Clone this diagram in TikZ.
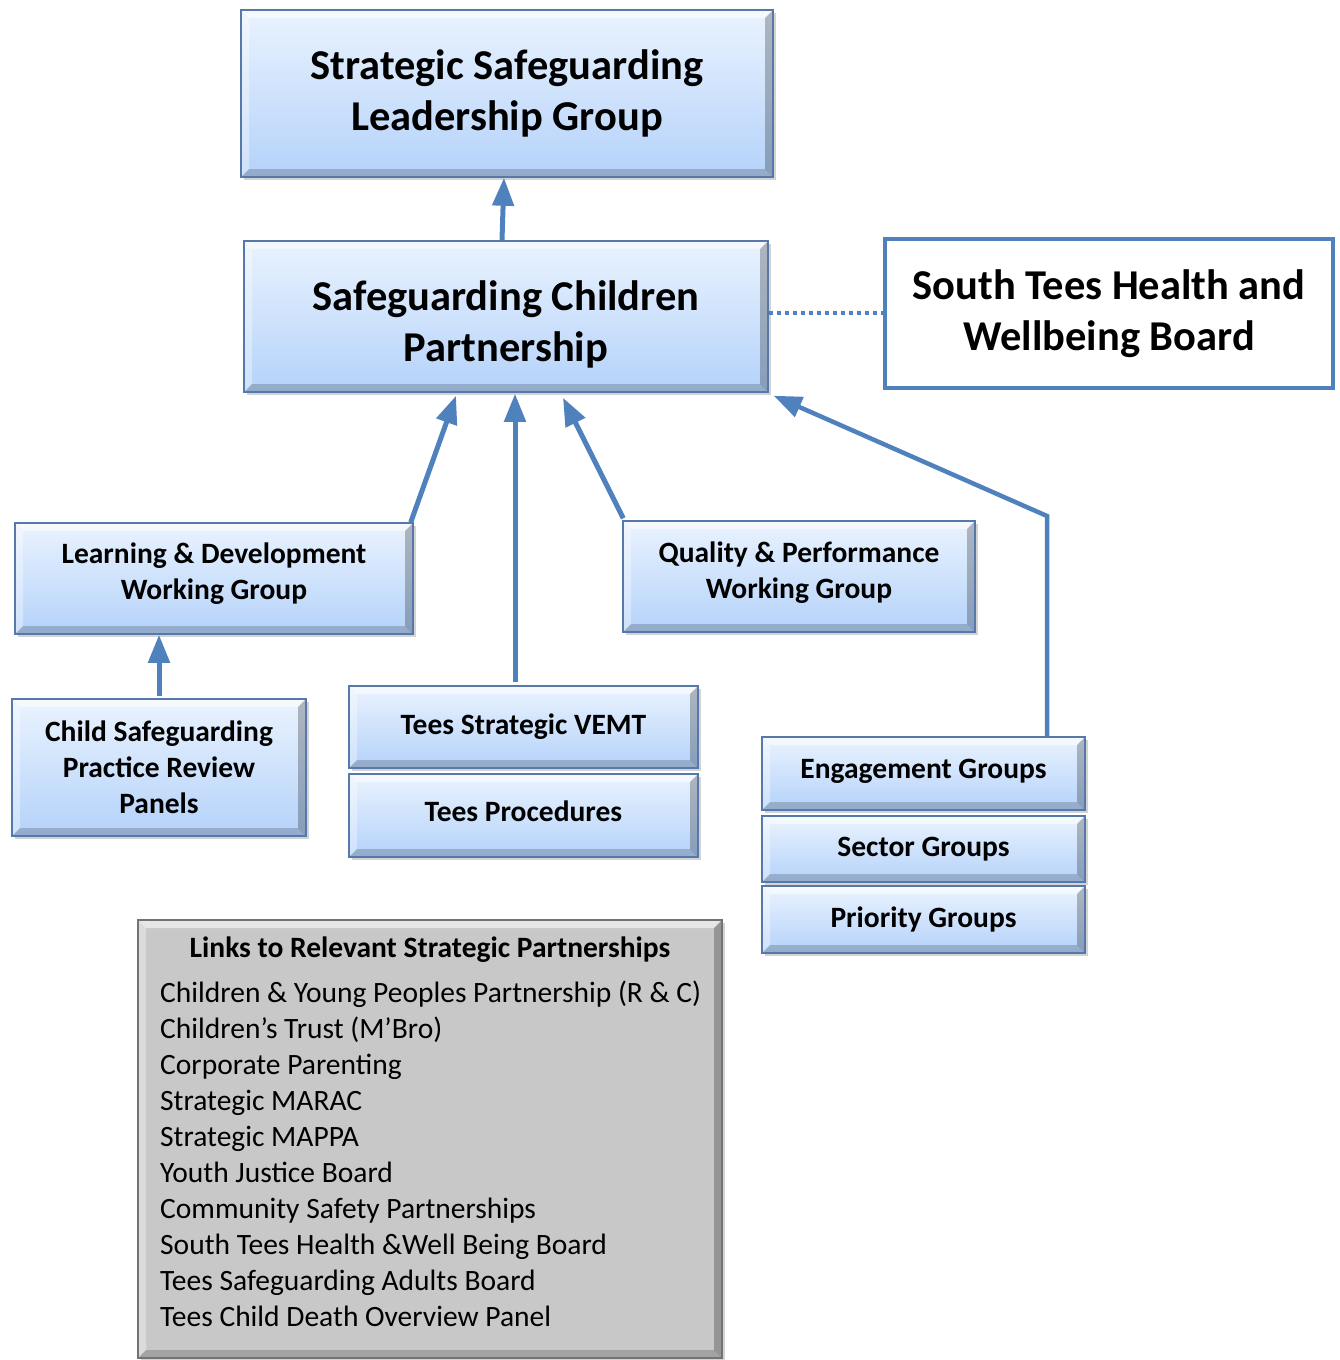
\documentclass[tikz,border=0pt]{standalone}
\usepackage{fontspec}
\setmainfont{Carlito}
\usetikzlibrary{arrows.meta,shadows}

\definecolor{linkblue}{RGB}{79,129,189}
\definecolor{boxtop}{RGB}{234,243,254}
\definecolor{boxbot}{RGB}{180,210,250}
\definecolor{boxline}{RGB}{86,120,170}
\definecolor{panelgrey}{RGB}{200,200,200}

% shift a line of box text without changing the box
\newcommand\liftline[2]{\raisebox{#1}[\height][\depth]{#2}}

\tikzset{
  bevel/.style={path picture={
    \fill[white,opacity=.55] (path picture bounding box.north west) -- (path picture bounding box.north east)
      -- ([xshift=-#1,yshift=-#1]path picture bounding box.north east) -- ([xshift=#1,yshift=-#1]path picture bounding box.north west) -- cycle;
    \fill[white,opacity=.35] (path picture bounding box.north west) -- (path picture bounding box.south west)
      -- ([xshift=#1,yshift=#1]path picture bounding box.south west) -- ([xshift=#1,yshift=-#1]path picture bounding box.north west) -- cycle;
    \fill[black,opacity=.25] (path picture bounding box.north east) -- (path picture bounding box.south east)
      -- ([xshift=-#1,yshift=#1]path picture bounding box.south east) -- ([xshift=-#1,yshift=-#1]path picture bounding box.north east) -- cycle;
    \fill[black,opacity=.18] (path picture bounding box.south west) -- (path picture bounding box.south east)
      -- ([xshift=-#1,yshift=#1]path picture bounding box.south east) -- ([xshift=#1,yshift=#1]path picture bounding box.south west) -- cycle;
  }},
  orgbox/.style={draw=boxline, line width=1.5pt, top color=boxtop, bottom color=boxbot,
    drop shadow={shadow xshift=3pt, shadow yshift=-3pt, opacity=.35}, bevel=8pt,
    align=center, inner sep=0pt, font=\bfseries},
  bigtext/.style={font=\fontsize{42.5}{51}\selectfont\bfseries},
  midtext/.style={font=\fontsize{29.5}{36}\selectfont\bfseries},
  uparrow/.style={draw=linkblue, line width=5pt, -{Triangle[length=28pt,width=21pt]}},
}

\begin{document}
\begin{tikzpicture}[x=1pt,y=-1pt]
  \useasboundingbox (0,0) rectangle (1340,1360);

  % top of the structure
  \node[orgbox,bigtext,minimum width=532pt,minimum height=167pt] (sslg) at (507,93.5) {Strategic Safeguarding\\Leadership Group};
  \node[orgbox,bigtext,minimum width=524pt,minimum height=151pt] (scp) at (506,316.5) {\liftline{-8pt}{Safeguarding Children}\\\liftline{-8pt}{Partnership}};
  \node[draw=linkblue,line width=4pt,fill=white,bigtext,align=center,minimum width=448pt,minimum height=149pt] (sthw) at (1109,313.5) {South Tees Health and\\Wellbeing Board};

  % working groups
  \node[orgbox,midtext,minimum width=398pt,minimum height=111pt] (ldwg) at (214,578.5) {\liftline{5pt}{Learning \& Development}\\\liftline{5pt}{Working Group}};
  \node[orgbox,midtext,minimum width=352pt,minimum height=111pt] (qpwg) at (799,576.5) {\liftline{4pt}{Quality \& Performance}\\\liftline{4pt}{Working Group}};
  \node[orgbox,midtext,minimum width=294pt,minimum height=137pt] (csprp) at (159,767.5) {Child Safeguarding\\Practice Review\\Panels};
  \node[orgbox,midtext,minimum width=349pt,minimum height=82pt] (vemt) at (523.5,727) {Tees Strategic VEMT};
  \node[orgbox,midtext,minimum width=349pt,minimum height=83pt] (proc) at (523.5,815.5) {\liftline{4pt}{Tees Procedures}};
  \node[orgbox,midtext,minimum width=323pt,minimum height=73pt] (engage) at (923.5,773.5) {\liftline{2pt}{Engagement Groups}};
  \node[orgbox,midtext,minimum width=323pt,minimum height=66pt] (sector) at (923.5,849) {Sector Groups};
  \node[orgbox,midtext,minimum width=323pt,minimum height=67pt] (prior) at (923.5,919.5) {Priority Groups};

  % links panel
  \node[draw=black!55,line width=1.5pt,fill=panelgrey,bevel=8pt,
    drop shadow={shadow xshift=3pt, shadow yshift=-3pt, opacity=.35},
    minimum width=584pt,minimum height=438pt] (links) at (430,1139) {};
  \node[font=\fontsize{29.5}{36}\selectfont\bfseries] (linkhead) at (430,950) {Links to Relevant Strategic Partnerships};
  \node[anchor=north west,align=left,inner sep=0pt,font=\fontsize{29.5}{36}\selectfont] (linklist) at (160,981) {%
    Children \& Young Peoples Partnership (R \& C)\\
    Children’s Trust (M’Bro)\\
    Corporate Parenting\\
    Strategic MARAC\\
    Strategic MAPPA\\
    Youth Justice Board\\
    Community Safety Partnerships\\
    South Tees Health \&Well Being Board\\
    Tees Safeguarding Adults Board\\
    Tees Child Death Overview Panel};

  % connectors
  \coordinate (bend) at (1047,516);
  \draw[uparrow] ([xshift=-4pt]scp.north) -- ([xshift=-3pt]sslg.south);
  \draw[uparrow] ([xshift=-3pt]ldwg.north east) -- ([xshift=-50pt,yshift=-3pt]scp.south);
  \draw[uparrow] ([xshift=-8.5pt,yshift=3pt]vemt.north) -- ([xshift=9pt,yshift=-1pt]scp.south);
  \draw[uparrow] ([xshift=1pt,yshift=2pt]qpwg.north west) -- ([xshift=57pt,yshift=-5pt]scp.south);
  \draw[uparrow,line width=4.5pt] (engage.north -| bend) -- (bend) -- ([xshift=5pt,yshift=-3pt]scp.south east);
  \draw[uparrow] ([yshift=2pt]csprp.north) -- (csprp.north |- ldwg.south);
  \draw[draw=linkblue,line width=4pt,dash pattern=on 4pt off 4pt] ([yshift=4pt]scp.east) -- ([yshift=4pt]scp.east -| sthw.west);
\end{tikzpicture}
\end{document}
